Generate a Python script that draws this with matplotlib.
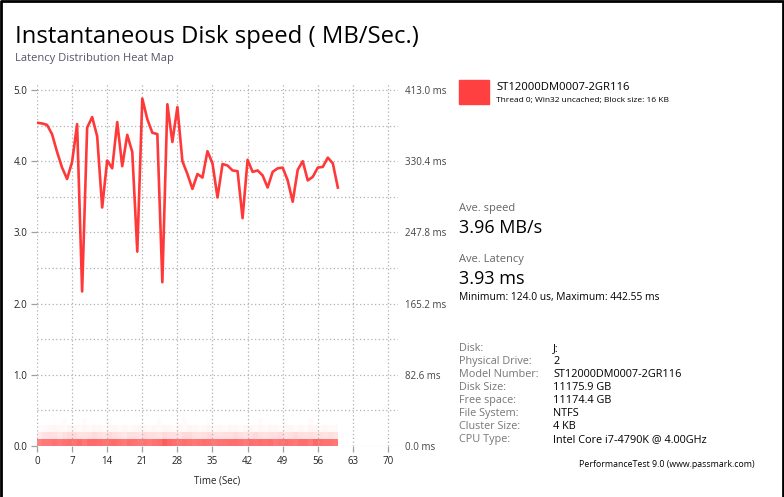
import matplotlib.pyplot as plt
import numpy as np
from matplotlib.colors import LinearSegmentedColormap

plt.rcParams['font.family'] = ['Open Sans', 'DejaVu Sans']

# speed samples, one per second (MB/s)
seconds = list(range(61))
speed = [4.54, 4.53, 4.51, 4.38, 4.13, 3.91, 3.75, 3.99, 4.52, 2.17,
         4.47, 4.62, 4.35, 3.35, 4.01, 3.90, 4.55, 3.93, 4.37, 4.13,
         2.73, 4.88, 4.59, 4.40, 4.38, 2.30, 4.80, 4.27, 4.76, 4.00,
         3.82, 3.61, 3.82, 3.77, 4.14, 3.97, 3.49, 3.96, 3.94, 3.87,
         3.86, 3.20, 4.02, 3.85, 3.87, 3.80, 3.63, 3.85, 3.90, 3.91,
         3.73, 3.43, 3.88, 4.00, 3.73, 3.78, 3.91, 3.92, 4.05, 3.97,
         3.63]

# latency heat map rows (intensity per one-second column)
heat_row0 = [0.62, 0.66, 0.66, 0.68, 0.66, 0.68, 0.70, 0.68, 0.72, 0.66,
             0.72, 0.72, 0.70, 0.68, 0.70, 0.72, 0.68, 0.66, 0.70, 0.68,
             0.66, 0.68, 0.66, 0.68, 0.70, 0.78, 0.74, 0.70, 0.68, 0.70,
             0.68, 0.66, 0.68, 0.70, 0.68, 0.66, 0.68, 0.68, 0.70, 0.70,
             0.68, 0.66, 0.70, 0.68, 0.70, 0.68, 0.70, 0.66, 0.68, 0.70,
             0.68, 0.66, 0.70, 0.70, 0.66, 0.74, 0.70, 0.68, 0.68, 0.66]
heat_row1 = [0.10, 0.14, 0.16, 0.16, 0.12, 0.16, 0.18, 0.18, 0.14, 0.14,
             0.16, 0.18, 0.16, 0.14, 0.18, 0.16, 0.14, 0.12, 0.16, 0.16,
             0.14, 0.18, 0.16, 0.16, 0.14, 0.18, 0.16, 0.16, 0.14, 0.18,
             0.18, 0.16, 0.14, 0.16, 0.18, 0.16, 0.14, 0.16, 0.16, 0.18,
             0.16, 0.14, 0.16, 0.18, 0.16, 0.14, 0.16, 0.16, 0.18, 0.14,
             0.16, 0.18, 0.16, 0.14, 0.16, 0.14, 0.16, 0.14, 0.16, 0.14]
heat_row2 = [0.02, 0.03, 0.04, 0.05, 0.04, 0.03, 0.05, 0.04, 0.03, 0.04,
             0.03, 0.05, 0.04, 0.03, 0.04, 0.05, 0.03, 0.04, 0.03, 0.04,
             0.05, 0.04, 0.03, 0.04, 0.03, 0.05, 0.04, 0.03, 0.04, 0.03,
             0.05, 0.04, 0.03, 0.04, 0.05, 0.03, 0.04, 0.03, 0.05, 0.04,
             0.03, 0.04, 0.05, 0.03, 0.04, 0.03, 0.05, 0.04, 0.03, 0.04,
             0.05, 0.03, 0.04, 0.03, 0.05, 0.04, 0.03, 0.04, 0.03, 0.03]
heat_row3 = [0.00, 0.00, 0.00, 0.01, 0.00, 0.02, 0.00, 0.00, 0.00, 0.02,
             0.00, 0.00, 0.00, 0.00, 0.02, 0.00, 0.00, 0.00, 0.00, 0.00,
             0.00, 0.00, 0.00, 0.00, 0.02, 0.00, 0.00, 0.00, 0.00, 0.02,
             0.00, 0.00, 0.00, 0.00, 0.02, 0.00, 0.00, 0.00, 0.00, 0.00,
             0.00, 0.00, 0.00, 0.00, 0.02, 0.00, 0.00, 0.00, 0.00, 0.02,
             0.00, 0.00, 0.00, 0.00, 0.02, 0.00, 0.00, 0.00, 0.00, 0.00]
heat_edges = [0, 0.094, 0.2, 0.3, 0.4]

x_ticks = [0, 7, 14, 21, 28, 35, 42, 49, 56, 63, 70]
y_ticks = [0, 1, 2, 3, 4, 5]
latency_labels = ['0.0 ms', '82.6 ms', '165.2 ms', '247.8 ms', '330.4 ms', '413.0 ms']

info_labels = ['Disk:', 'Physical Drive:', 'Model Number:', 'Disk Size:',
               'Free space:', 'File System:', 'Cluster Size:', 'CPU Type:']
info_values = ['J:', '2', 'ST12000DM0007-2GR116', '11175.9 GB',
               '11174.4 GB', 'NTFS', '4 KB', 'Intel Core i7-4790K @ 4.00GHz']

W, H = 784, 497
fig = plt.figure(figsize=(W / 100, H / 100), dpi=100)
fig.patch.set_facecolor('white')

# window border (left, top, right)
fig.add_artist(plt.Line2D([0.001, 0.001, 0.999, 0.999], [0, 0.998, 0.998, 0],
                          transform=fig.transFigure, color='black', lw=2))

ax = fig.add_axes([37 / W, 51 / H, 361 / W, 361.7 / H])
ax.set_xlim(0, 72)
ax.set_ylim(0, 5.08)

cmap = LinearSegmentedColormap.from_list('heat', ['#ffffff', '#ff3030'])
heat = np.array([heat_row0, heat_row1, heat_row2, heat_row3])
ax.pcolormesh(np.arange(61), heat_edges, heat, cmap=cmap, vmin=0, vmax=1,
              zorder=1)

ax.plot(seconds, speed, color='#ff2e2e', lw=1.9, alpha=0.95, zorder=4,
        solid_joinstyle='round')

for s in ax.spines.values():
    s.set_visible(False)

ax.set_xticks(x_ticks)
ax.set_yticks(y_ticks)
ax.set_yticks(np.arange(0.5, 5, 1.0), minor=True)
ax.set_yticklabels([f'{v:.1f}' for v in y_ticks])
ax.set_axisbelow(False)
ax.grid(True, which='both', color='#b0b0b0', lw=0.9, linestyle=(0, (1, 2)),
        zorder=2)
ax.tick_params(axis='both', which='major', length=4, width=0.9, color='#a0a0a0',
               labelsize=7, labelcolor='#222222', pad=3)
ax.tick_params(axis='y', which='minor', length=0)
ax.set_xlabel('Time (Sec)', fontsize=7, color='#222222', labelpad=6)

ax2 = ax.twinx()
ax2.set_ylim(ax.get_ylim())
ax2.set_yticks(y_ticks)
ax2.set_yticklabels(latency_labels)
ax2.tick_params(axis='y', length=0, labelsize=7, labelcolor='#444444', pad=5)
for s in ax2.spines.values():
    s.set_visible(False)

# titles
fig.text(15 / W, 1 - 43 / H, 'Instantaneous Disk speed ( MB/Sec.)', fontsize=17.2,
         color='black', va='baseline')
fig.text(15 / W, 1 - 61 / H, 'Latency Distribution Heat Map', fontsize=8,
         color='#55556a', va='baseline')

# legend
fig.add_artist(plt.Rectangle((459 / W, 1 - 104 / H), 30 / W, 24 / H,
                             transform=fig.transFigure, color='#ff4040'))
fig.text(496 / W, 1 - 90 / H, 'ST12000DM0007-2GR116', fontsize=8.1, va='baseline')
fig.text(496 / W, 1 - 102 / H, 'Thread 0; Win32 uncached; Block size: 16 KB',
         fontsize=6, va='baseline')

# averages
fig.text(459 / W, 1 - 211 / H, 'Ave. speed', fontsize=8, color='#666666', va='baseline')
fig.text(459 / W, 1 - 233 / H, '3.96 MB/s', fontsize=13, va='baseline')
fig.text(459 / W, 1 - 262 / H, 'Ave. Latency', fontsize=8, color='#666666', va='baseline')
fig.text(459 / W, 1 - 284 / H, '3.93 ms', fontsize=13, va='baseline')
fig.text(459 / W, 1 - 300 / H, 'Minimum: 124.0 us, Maximum: 442.55 ms', fontsize=7.4,
         va='baseline')

for i, (lab, val) in enumerate(zip(info_labels, info_values)):
    y = 1 - (351 + 13 * i) / H
    fig.text(459 / W, y, lab, fontsize=7.8, color='#777777', va='baseline')
    fig.text(553 / W, y, val, fontsize=7.8, color='black', va='baseline')

fig.text(579 / W, 1 - 467 / H, 'PerformanceTest 9.0 (www.passmark.com)', fontsize=6.3,
         va='baseline')

fig.savefig('out.png', dpi=100)
